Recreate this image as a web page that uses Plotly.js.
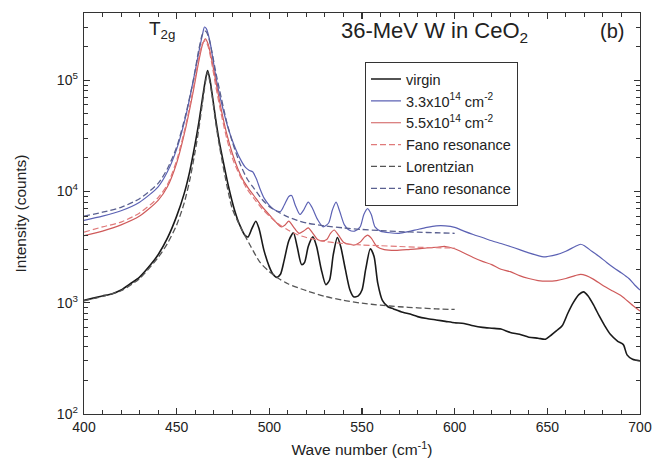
<!DOCTYPE html>
<html><head><meta charset="utf-8">
<script src="https://cdn.plot.ly/plotly-3.0.1.min.js"></script>
<style>body{margin:0;background:#fff}</style>
</head><body>
<div id="chart" style="width:654px;height:468px"></div>
<script>
// virgin (black)
var virginX = [400,405,410,415,420,425,430,436,440,445,450,454,457,460,462,464,465.5,466.7,468,469.5,471,473,475,478,481,484,487,488.5,490.5,492.7,494.5,497,500,502,504,506,508,510.5,513,515,517.4,519,521,523.5,525.5,528,530.5,532.5,534.5,536.7,538.5,541,543.5,545.5,548,550,552,554.5,556.5,558.5,561,564,567,572,576,580,585,590,595,600,605,610,615,620,625,630,635,640,645,649,652,655,658,661,664,667,669.5,672,675,678,681,684,688,691,693,696,700];
var virginY = [1050,1100,1150,1200,1300,1480,1700,2200,2700,3800,6000,9500,15000,27000,42000,70000,100000,122000,100000,68000,45000,28000,19000,11000,7000,5000,4000,3900,4600,5400,4600,3000,2100,1800,1690,1800,2400,3600,4250,3200,2200,2300,3200,3900,3200,2000,1450,1600,2700,3850,3200,2000,1300,1130,1150,1300,2000,3050,2600,1500,1050,920,880,820,790,750,720,700,680,660,650,620,600,590,580,540,520,490,480,470,510,560,620,800,1000,1180,1250,1150,950,760,620,520,450,420,340,310,300];

// 3.3e14 (blue)
var blueX = [400,410,420,430,440,445,450,455,459,462,464,465,466,468,470,472,475,478,481,484,487,489,491,493,495,497,500,503,506,508,510.5,512,514,516.5,518.5,521,523,526,529,532,534,536,538,540.5,543,546,549,551,553,555,557,560,565,570,575,580,585,590,595,600,605,610,615,620,625,630,635,640,645,648,650,655,660,665,668,670,674,678,682,686,690,694,697,700];
var blueY = [5500,6000,6700,8000,11000,15000,24000,48000,100000,180000,260000,300000,290000,220000,140000,90000,55000,36000,26000,20000,16500,15500,15000,13000,10500,8800,7500,6800,6600,7500,9000,9200,7500,6200,6800,8000,7200,5600,4800,5200,6800,8000,6600,5000,4500,4400,4800,6200,7000,6200,4800,4400,4250,4200,4350,4550,4750,4900,4900,4750,4400,4100,3850,3600,3400,3200,3000,2800,2650,2580,2600,2700,2900,3200,3350,3250,2900,2600,2300,2050,1850,1650,1450,1300];

// 5.5e14 (red)
var redX = [400,410,420,430,440,445,450,455,459,462,464,465.5,467,469,471,474,477,480,483,486,489,492,495,498,501,504,506.5,508.5,510.5,513,516,518.5,521,523.5,526,528.5,531,533,535,537.5,540,543,546,549,551.5,553,555,558,562,568,575,580,585,590,595,600,605,610,615,620,625,630,635,640,645,650,655,660,665,668,671,675,680,685,690,695,700];
var redY = [4000,4400,5000,6000,8300,11000,18000,38000,80000,150000,210000,235000,210000,150000,100000,55000,33000,22000,16000,12500,10500,9000,7700,6700,5900,5200,4800,5000,5400,4800,4200,4400,4700,4200,3700,3600,3700,4200,4500,4000,3500,3350,3300,3500,3900,4050,3800,3200,3000,2950,3000,3050,3100,3150,3200,3050,2800,2550,2350,2200,2000,1900,1750,1650,1580,1560,1580,1650,1750,1800,1750,1620,1430,1280,1150,980,840];

// Fano resonance fit (red dashed)
var fanoRedX = [400,410,420,430,440,445,450,455,459,462,464,465.5,467,469,471,474,477,480,484,488,492,496,500,505,510,515,520,530,540,550,560,570,580,590,600];
var fanoRedY = [4300,4800,5300,6400,8800,11500,19000,40000,85000,160000,215000,225000,200000,140000,90000,50000,30000,20000,14000,10500,8500,7000,6000,5100,4500,4100,3850,3550,3400,3300,3250,3200,3150,3120,3100];

// Lorentzian fit (gray dashed)
var lorX = [400,410,420,430,440,445,450,454,457,460,462,464,465.5,466.7,468,469.5,471,473,476,480,485,490,495,500,505,510,520,530,540,550,560,570,580,590,600];
var lorY = [1040,1140,1280,1650,2550,3400,5000,7800,12500,23000,37000,64000,95000,118000,95000,65000,42000,26000,14000,7000,4600,3200,2300,1900,1650,1480,1280,1140,1050,990,950,920,900,880,870];

// Fano resonance fit (blue-gray dashed)
var fanoBlueX = [400,410,420,430,440,445,450,455,459,462,464,465.5,467,469,471,474,477,480,484,488,492,496,500,505,510,515,520,530,540,550,560,570,580,590,600];
var fanoBlueY = [6000,6500,7200,8600,11800,16000,25000,50000,100000,190000,260000,275000,250000,180000,120000,70000,42000,28000,18000,13000,10500,8500,7300,6500,5900,5500,5200,4900,4700,4550,4450,4350,4300,4250,4200];

var names = ['virgin','3.3x10<sup>14</sup> cm<sup>-2</sup>','5.5x10<sup>14</sup> cm<sup>-2</sup>','Fano resonance','Lorentzian','Fano resonance'];
var yTickVals = [100,1000,10000,100000];
var yTickText = ['10<sup>2</sup>','10<sup>3</sup>','10<sup>4</sup>','10<sup>5</sup>'];
var yMinorVals = [200,300,400,500,600,700,800,900,2000,3000,4000,5000,6000,7000,8000,9000,20000,30000,40000,50000,60000,70000,80000,90000,200000,300000,400000];

function tr(x,y,name,color,width,dash){
  return {x:x,y:y,name:name,type:'scatter',mode:'lines',
    line:{color:color,width:width,dash:dash||'solid',shape:'spline',smoothing:0.7}};
}
var data = [
  tr(virginX,virginY,names[0],'#1a1a1a',1.6),
  tr(blueX,blueY,names[1],'#5c62b4',1.2),
  tr(redX,redY,names[2],'#cf5a5a',1.2),
  tr(fanoRedX,fanoRedY,names[3],'#e07a7a',1.2,'6px,3px'),
  tr(lorX,lorY,names[4],'#555555',1.3,'6px,3px'),
  tr(fanoBlueX,fanoBlueY,names[5],'#5a6090',1.3,'6px,3px')
];
var F = 'Liberation Sans, Arial, sans-serif';
var layout = {
  width:654,height:468,
  margin:{l:84,r:14,t:13,b:54},
  paper_bgcolor:'#fff',plot_bgcolor:'#fff',
  font:{family:F,color:'#222',size:14},
  showlegend:true,
  legend:{x:0.505,y:0.878,xanchor:'left',yanchor:'top',bgcolor:'#fff',
    bordercolor:'#333',borderwidth:1.2,font:{family:F,size:14.5,color:'#222'},
    tracegroupgap:0,itemwidth:30,entrywidth:120},
  xaxis:{range:[400,700],dtick:50,tick0:400,ticks:'inside',ticklen:6,tickwidth:1.2,tickcolor:'#333',
    showline:true,linecolor:'#333',linewidth:1.3,mirror:'allticks',showgrid:false,zeroline:false,
    minor:{dtick:10,tick0:400,ticks:'inside',ticklen:4,tickwidth:1,tickcolor:'#333'},
    tickfont:{size:14,color:'#222'},
    title:{text:'Wave number (cm<sup>-1</sup>)',font:{size:15.5,color:'#222'},standoff:10}},
  yaxis:{type:'log',range:[2,5.603],tickmode:'array',tickvals:yTickVals,ticktext:yTickText,ticks:'inside',ticklen:6,tickwidth:1.2,tickcolor:'#333',
    showline:true,linecolor:'#333',linewidth:1.3,mirror:'allticks',showgrid:false,zeroline:false,
    minor:{tickmode:'array',tickvals:yMinorVals,ticks:'inside',ticklen:4,tickwidth:1,tickcolor:'#333'},
    tickfont:{size:14,color:'#222'},ticklabelstandoff:2,
    title:{text:'Intensity (counts)',font:{size:15.5,color:'#222'},standoff:26}},
  annotations:[
    {xref:'paper',yref:'paper',x:0.63,y:0.952,xanchor:'center',yanchor:'middle',showarrow:false,
      text:'36-MeV W in CeO<sub>2</sub>',font:{size:22,color:'#222'}},
    {xref:'paper',yref:'paper',x:0.95,y:0.955,xanchor:'center',yanchor:'middle',showarrow:false,
      text:'(b)',font:{size:20,color:'#222'}},
    {xref:'paper',yref:'paper',x:0.14,y:0.958,xanchor:'center',yanchor:'middle',showarrow:false,
      text:'T<sub>2g</sub>',font:{size:19,color:'#222'}}
  ]
};
Plotly.newPlot('chart',data,layout,{displayModeBar:false,staticPlot:true});
</script>
</body></html>
